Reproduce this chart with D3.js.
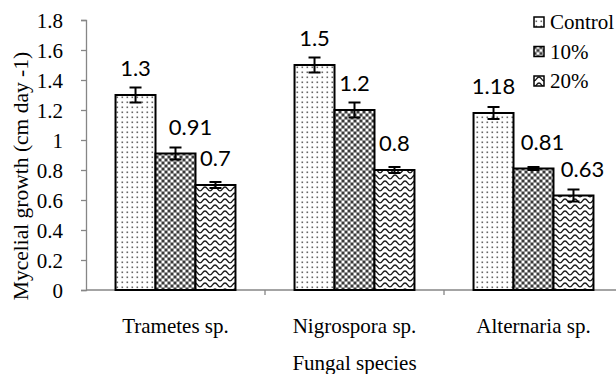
<!DOCTYPE html>
<html>
<head>
<meta charset="utf-8">
<script src="https://cdn.jsdelivr.net/npm/d3@7"></script>
<style>
  body { margin: 0; background: #fff; }
  svg { display: block; }
</style>
</head>
<body>
<svg width="616" height="374"></svg>
<script>
// data
const species = ['Trametes sp.', 'Nigrospora sp.', 'Alternaria sp.'];
const treatments = ['Control', '10%', '20%'];
const controlValues = [1.3, 1.5, 1.18];
const tenPctValues = [0.91, 1.2, 0.81];
const twentyPctValues = [0.7, 0.8, 0.63];
const controlErr = [0.05, 0.05, 0.04];
const tenPctErr = [0.04, 0.05, 0.01];
const twentyPctErr = [0.02, 0.02, 0.04];
const yTicks = [0, 0.2, 0.4, 0.6, 0.8, 1, 1.2, 1.4, 1.6, 1.8];
const yLabel = 'Mycelial growth (cm day -1)';
const xLabel = 'Fungal species';

// layout only: data labels that Excel pushed sideways
const labelShift = { 'Trametes sp.|10%': 15, 'Alternaria sp.|10%': 9, 'Alternaria sp.|20%': 9 };

const svg = d3.select('svg');
const serif = '"Liberation Serif", "Times New Roman", serif';
const axisColor = '#868686';

const valueSets = [controlValues, tenPctValues, twentyPctValues];
const errSets = [controlErr, tenPctErr, twentyPctErr];
const rows = species.flatMap((s, i) => treatments.map((t, j) => ({
    species: s, treatment: t, value: valueSets[j][i], err: errSets[j][i]
})));

const plotLeft = 86, plotRight = 623, plotTop = 20, plotBottom = 290;

const y = d3.scaleLinear().domain([0, 1.8]).range([plotBottom, plotTop]);
const x = d3.scaleBand().domain(species).range([plotLeft, plotRight])
      .paddingInner(0.33).paddingOuter(0.165);
const xInner = d3.scaleBand().domain(treatments).range([0, x.bandwidth()]);

// fill patterns
const defs = svg.append('defs');

const dots = defs.append('pattern').attr('id', 'pat-Control')
      .attr('patternUnits', 'userSpaceOnUse').attr('width', 5).attr('height', 5);
dots.append('rect').attr('width', 5).attr('height', 5).attr('fill', '#fff');
dots.append('rect').attr('x', 1.5).attr('y', 1.5).attr('width', 1.6).attr('height', 1.6).attr('fill', '#666');

const check = defs.append('pattern').attr('id', 'pat-10%')
      .attr('patternUnits', 'userSpaceOnUse').attr('width', 6).attr('height', 6);
check.append('rect').attr('width', 6).attr('height', 6).attr('fill', '#999');
check.append('rect').attr('x', 0).attr('y', 0).attr('width', 2).attr('height', 2).attr('fill', '#3a3a3a');
check.append('rect').attr('x', 3).attr('y', 3).attr('width', 2).attr('height', 2).attr('fill', '#3a3a3a');
check.append('rect').attr('x', 3).attr('y', 0).attr('width', 2).attr('height', 2).attr('fill', '#fff');
check.append('rect').attr('x', 0).attr('y', 3).attr('width', 2).attr('height', 2).attr('fill', '#fff');

const wave = defs.append('pattern').attr('id', 'pat-20%')
      .attr('patternUnits', 'userSpaceOnUse').attr('width', 10).attr('height', 6);
wave.append('rect').attr('width', 10).attr('height', 6).attr('fill', '#fff');
wave.append('path').attr('d', 'M0,4.8 C2.5,4.8 2.5,1 5,1 C7.5,1 7.5,4.8 10,4.8')
    .attr('fill', 'none').attr('stroke', '#1a1a1a').attr('stroke-width', 1.3);

const patUrl = t => `url(#pat-${t.replace('%', '%25')})`;

// y axis
const yAxisG = svg.append('g')
      .attr('transform', `translate(${plotLeft},0)`)
      .call(d3.axisLeft(y).tickValues(yTicks).tickSize(5).tickPadding(18).tickFormat(d => d));
yAxisG.select('.domain').attr('stroke', axisColor).attr('stroke-width', 1.3);
yAxisG.selectAll('.tick line').attr('stroke', axisColor).attr('stroke-width', 1.3);
yAxisG.selectAll('.tick text')
    .attr('font-family', serif).attr('font-size', 21).attr('fill', '#000')
    .attr('dy', null).attr('y', 7);

// x axis: line, ticks between the groups, labels under groups
const xAxisG = svg.append('g');
xAxisG.append('line')
    .attr('x1', plotLeft).attr('x2', plotRight)
    .attr('y1', plotBottom).attr('y2', plotBottom)
    .attr('stroke', axisColor).attr('stroke-width', 1.5);
const gap = x.step() - x.bandwidth();
xAxisG.selectAll('.xtick').data(species.slice(1)).enter().append('line')
    .attr('class', 'xtick')
    .attr('x1', d => x(d) - gap / 2).attr('x2', d => x(d) - gap / 2)
    .attr('y1', plotBottom).attr('y2', plotBottom + 5)
    .attr('stroke', axisColor).attr('stroke-width', 1.3);
xAxisG.selectAll('.xlabel').data(species).enter().append('text')
    .attr('class', 'xlabel')
    .attr('x', d => x(d) + x.bandwidth() / 2).attr('y', 333)
    .attr('text-anchor', 'middle')
    .attr('font-family', serif).attr('font-size', 21)
    .text(d => d);

svg.append('text')
    .attr('x', x(species[1]) + x.bandwidth() / 2).attr('y', 370)
    .attr('text-anchor', 'middle')
    .attr('font-family', serif).attr('font-size', 21)
    .text(xLabel);

svg.append('text')
    .attr('transform', 'translate(28,176) rotate(-90)')
    .attr('text-anchor', 'middle')
    .attr('font-family', serif).attr('font-size', 21.5)
    .text(yLabel);

// bars
const barX = d => x(d.species) + xInner(d.treatment);
svg.append('g').selectAll('rect').data(rows).enter().append('rect')
    .attr('x', barX)
    .attr('y', d => y(d.value))
    .attr('width', xInner.bandwidth())
    .attr('height', d => y(0) - y(d.value))
    .attr('fill', d => patUrl(d.treatment))
    .attr('stroke', '#000').attr('stroke-width', 2);

// error bars
const errG = svg.append('g').attr('stroke', '#000').attr('stroke-width', 2);
const cx = d => barX(d) + xInner.bandwidth() / 2;
errG.selectAll('.stem').data(rows).enter().append('line')
    .attr('x1', cx).attr('x2', cx)
    .attr('y1', d => y(d.value + d.err)).attr('y2', d => y(d.value - d.err));
errG.selectAll('.capTop').data(rows).enter().append('line')
    .attr('x1', d => cx(d) - 6).attr('x2', d => cx(d) + 6)
    .attr('y1', d => y(d.value + d.err)).attr('y2', d => y(d.value + d.err));
errG.selectAll('.capBot').data(rows).enter().append('line')
    .attr('x1', d => cx(d) - 6).attr('x2', d => cx(d) + 6)
    .attr('y1', d => y(d.value - d.err)).attr('y2', d => y(d.value - d.err));

// value labels
svg.append('g').selectAll('text').data(rows).enter().append('text')
    .attr('x', d => cx(d) + (labelShift[d.species + '|' + d.treatment] || 0))
    .attr('y', d => y(d.value) - 19)
    .attr('text-anchor', 'middle')
    .attr('font-family', 'Lato, "Open Sans", sans-serif').attr('font-size', 22)
    .text(d => d.value);

// legend
const legend = svg.append('g').selectAll('g').data(treatments).enter().append('g')
      .attr('transform', (d, i) => `translate(534,${29 + i * 29.5})`);
legend.append('rect')
    .attr('x', 0).attr('y', -12).attr('width', 10).attr('height', 10)
    .attr('fill', d => patUrl(d))
    .attr('stroke', '#000').attr('stroke-width', 1.5);
legend.append('text')
    .attr('x', 16).attr('y', 0)
    .attr('font-family', serif).attr('font-size', 21)
    .text(d => d);
</script>
</body>
</html>
